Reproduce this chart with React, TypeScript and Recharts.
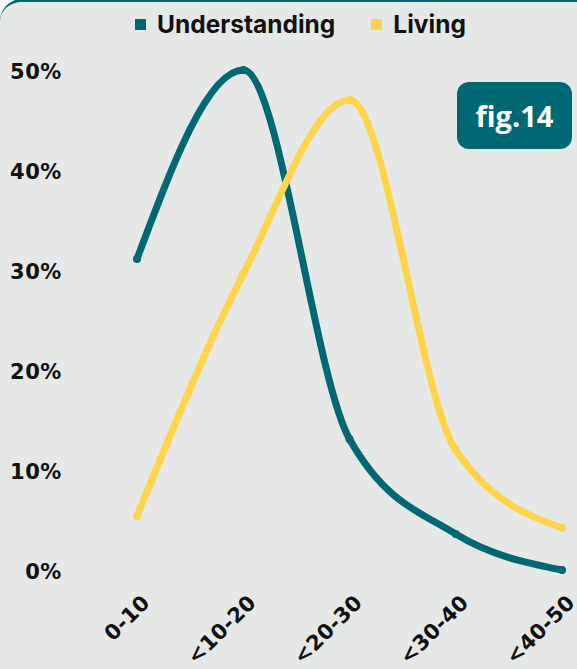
import { LineChart, Line, XAxis, YAxis } from "recharts";

const TEAL = "#006872";
const YELLOW = "#fed44b";
const BG = "#e6e8e7";

const categories = ["0-10", "<10-20", "<20-30", "<30-40", "<40-50"];
const understanding = [31.3, 50.2, 13.3, 3.8, 0.2];
const living = [5.6, 29.8, 47.2, 12.2, 4.4];
const yTicks = [0, 10, 20, 30, 40, 50];

const data = categories.map((c, i) => ({
  age: c,
  understanding: understanding[i],
  living: living[i],
}));

const FONT = "'DejaVu Sans', sans-serif";

function XTick({ x, y, payload }: any) {
  const tx = x + 14;
  const ty = y + 24;
  return (
    <text
      x={tx}
      y={ty}
      transform={`rotate(-45 ${tx} ${ty})`}
      textAnchor="end"
      fontFamily={FONT}
      fontWeight={700}
      fontSize={21}
      letterSpacing={0.3}
      fill="#111"
    >
      {payload.value}
    </text>
  );
}

const legendItems = [
  { label: "Understanding", color: TEAL },
  { label: "Living", color: YELLOW },
];

export default function App() {
  return (
    <div
      style={{
        position: "absolute",
        left: 0,
        top: 0,
        width: 577,
        height: 669,
        background: "#f4f5f4",
        overflow: "hidden",
      }}
    >
      <div
        style={{
          position: "absolute",
          left: 0,
          top: -1,
          width: 577,
          height: 670,
          background: BG,
          borderTop: `3px solid ${TEAL}`,
          borderTopLeftRadius: 22,
          boxSizing: "border-box",
        }}
      />
      <div style={{ position: "absolute", left: 0, top: 0 }}>
        <LineChart
          width={577}
          height={669}
          data={data}
          margin={{ top: 70, right: 15, bottom: 0, left: 0 }}
        >
          <XAxis
            dataKey="age"
            axisLine={false}
            tickLine={false}
            height={97}
            interval={0}
            tick={<XTick />}
          />
          <YAxis
            domain={[0, 50]}
            ticks={yTicks}
            width={137}
            axisLine={false}
            tickLine={false}
            tickSize={0}
            tickMargin={75}
            tickFormatter={(v: number) => `${v}%`}
            tick={{ fontFamily: FONT, fontWeight: 700, fontSize: 21, letterSpacing: 0.6, fill: "#111" }}
          />
          <Line
            type="monotone"
            dataKey="understanding"
            name="Understanding"
            stroke={TEAL}
            strokeWidth={7}
            strokeLinecap="round"
            dot={{ r: 4, fill: TEAL, stroke: "none" }}
            activeDot={false}
            isAnimationActive={false}
          />
          <Line
            type="monotone"
            dataKey="living"
            name="Living"
            stroke={YELLOW}
            strokeWidth={7}
            strokeLinecap="round"
            dot={{ r: 4, fill: YELLOW, stroke: "none" }}
            activeDot={false}
            isAnimationActive={false}
          />
        </LineChart>
      </div>
      <div
        style={{
          position: "absolute",
          left: 135,
          top: 9,
          display: "flex",
          gap: 36,
          fontFamily: "Inter, sans-serif",
          fontWeight: 700,
          fontSize: 24.5,
          color: "#111",
        }}
      >
        {legendItems.map((it) => (
          <span key={it.label} style={{ display: "flex", alignItems: "center", gap: 11 }}>
            <span style={{ width: 11, height: 11, background: it.color, display: "inline-block" }} />
            {it.label}
          </span>
        ))}
      </div>
      <div
        style={{
          position: "absolute",
          left: 457,
          top: 82,
          width: 115,
          height: 67,
          borderRadius: 12,
          background: TEAL,
          color: "#fff",
          fontFamily: "'Open Sans', sans-serif",
          fontWeight: 700,
          fontSize: 29,
          display: "flex",
          alignItems: "center",
          justifyContent: "center",
        }}
      >
        fig.14
      </div>
    </div>
  );
}
